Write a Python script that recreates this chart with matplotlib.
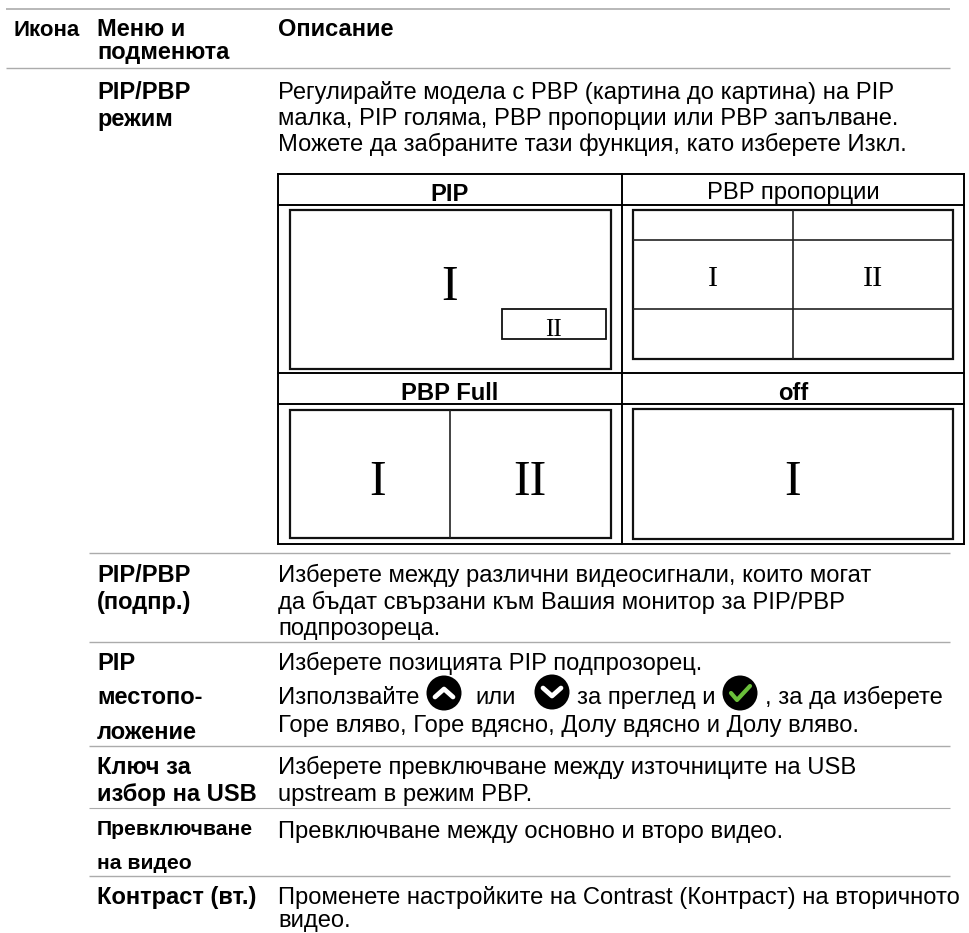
import matplotlib
matplotlib.use("Agg")
import matplotlib.pyplot as plt
from matplotlib.patches import Circle, Rectangle

W, H = 970, 933
SANS = "Liberation Sans"
SERIF = "Liberation Serif"
BODY = 17.15
BOLD = 17.0
TEXT_DY = 1

header = [("Икона", 14, 35, 16.0), ("Меню и", 97, 35, BOLD), ("подменюта", 97, 58, BOLD), ("Описание", 278, 35, BOLD)]
menu_items = [
    ("PIP/PBP", 97, 98, BOLD), ("режим", 97, 125, BOLD),
    ("PIP/PBP", 97, 581, BOLD), ("(подпр.)", 97, 608, BOLD),
    ("PIP", 97, 669, BOLD), ("местопо-", 97, 703, BOLD), ("ложение", 97, 738, BOLD),
    ("Ключ за", 97, 773, BOLD), ("избор на USB", 97, 800, BOLD),
    ("Превключване", 97, 834, 15.2), ("на видео", 97, 868, 15.2),
    ("Контраст (вт.)", 97, 903, BOLD),
]
body_lines = [
    ("Регулирайте модела с PBP (картина до картина) на PIP", 278, 98),
    ("малка, PIP голяма, PBP пропорции или PBP запълване.", 278, 124),
    ("Можете да забраните тази функция, като изберете Изкл.", 278, 150),
    ("Изберете между различни видеосигнали, които могат", 278, 581),
    ("да бъдат свързани към Вашия монитор за PIP/PBP", 278, 608),
    ("подпрозореца.", 278, 634),
    ("Изберете позицията PIP подпрозорец.", 278, 669),
    ("Използвайте", 278, 703), ("или", 475, 703), ("за преглед и", 577, 703),
    (", за да изберете", 765, 703),
    ("Горе вляво, Горе вдясно, Долу вдясно и Долу вляво.", 278, 731),
    ("Изберете превключване между източниците на USB", 278, 773),
    ("upstream в режим PBP.", 278, 800),
    ("Превключване между основно и второ видео.", 278, 837),
    ("Променете настройките на Contrast (Контраст) на вторичното", 278, 903),
    ("видео.", 278, 926),
]
rules = [(6, 950, 9, 1.2), (6, 950, 68, 1.0), (89, 950, 553, 1.0), (89, 950, 642, 1.0),
         (89, 950, 746, 1.0), (89, 950, 808, 0.8), (89, 950, 876, 1.0)]
table_titles = [("PIP", 450, 200, True), ("PBP пропорции", 793, 198, False),
                ("PBP Full", 450, 399, True), ("off", 793, 399, True)]
table_h = [(278, 964, 174), (278, 964, 205), (278, 964, 373), (278, 964, 404), (278, 964, 544)]
table_v = [(278, 174, 544), (622, 174, 544), (964, 174, 544)]
frames = [(290, 210, 611, 369, 1.6), (502, 309, 606, 339, 1.3), (633, 210, 953, 359, 1.6),
          (290, 410, 611, 538, 1.6), (633, 409, 953, 539, 1.6)]
dividers = [(793, 793, 210, 359), (633, 953, 240, 240), (633, 953, 309, 309), (450, 450, 410, 538)]
numerals = [("I", 450, 300, 36), ("II", 553, 336, 18), ("I", 713, 286, 21.6), ("II", 873, 286, 21.6),
            ("I", 378, 495, 36), ("II", 530, 495, 36), ("I", 793, 495, 36)]
icons = [("up", 444, 693), ("down", 552, 692), ("check", 740, 693)]

fig = plt.figure(figsize=(W / 100, H / 100), dpi=100, facecolor="white")
ax = fig.add_axes([0, 0, 1, 1])
ax.set_xlim(0, W)
ax.set_ylim(H, 0)
ax.axis("off")

for x0, x1, y, lw in rules:
    ax.plot([x0, x1], [y, y], color="#ababab", lw=lw, solid_capstyle="butt")
for x0, x1, y in table_h:
    ax.plot([x0, x1], [y, y], color="black", lw=1.4, solid_capstyle="projecting")
for x, y0, y1 in table_v:
    ax.plot([x, x], [y0, y1], color="black", lw=1.4, solid_capstyle="projecting")
for x0, y0, x1, y1, lw in frames:
    ax.add_patch(Rectangle((x0, y0), x1 - x0, y1 - y0, fill=False, ec="#111111", lw=lw))
for x0, x1, y0, y1 in dividers:
    ax.plot([x0, x1], [y0, y1], color="#222222", lw=1.2, solid_capstyle="butt")

for s, x, y, fs in header:
    ax.text(x, y + TEXT_DY, s, family=SANS, weight="bold", size=fs, va="baseline", color="black")
for s, x, y, fs in menu_items:
    ax.text(x, y + TEXT_DY, s, family=SANS, weight="bold", size=fs, va="baseline", color="black")
for s, x, y in body_lines:
    ax.text(x, y + TEXT_DY, s, family=SANS, size=BODY, va="baseline", color="black")
for s, x, y, bold in table_titles:
    ax.text(x, y + TEXT_DY, s, family=SANS, weight="bold" if bold else "normal", size=BODY, ha="center",
            va="baseline", color="black")
for s, x, y, fs in numerals:
    ax.text(x, y, s, family=SERIF, size=fs, ha="center", va="baseline", color="black")

for kind, x, y in icons:
    ax.add_patch(Circle((x, y), 17.5, fc="black", ec="none"))
    if kind == "up":
        ax.plot([x - 9, x, x + 9], [y + 4, y - 4, y + 4], color="white", lw=3.4, solid_capstyle="round")
    elif kind == "down":
        ax.plot([x - 9, x, x + 9], [y - 4, y + 4, y - 4], color="white", lw=3.4, solid_capstyle="round")
    else:
        ax.plot([x - 9, x - 3, x + 10], [y, y + 7, y - 7], color="#6abf3a", lw=3, solid_capstyle="round")

fig.savefig("out.png", dpi=100, facecolor="white")
